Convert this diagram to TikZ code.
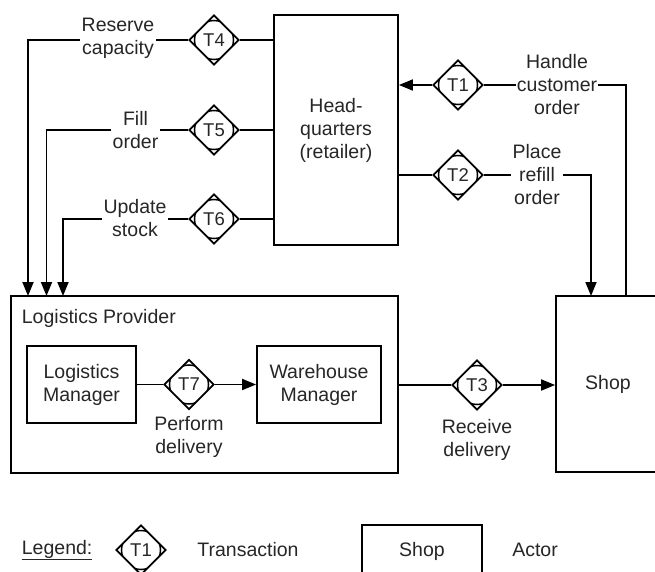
\documentclass[tikz,border=0pt]{standalone}
\usepackage{fontspec}
\setmainfont{Liberation Sans}
\usetikzlibrary{shapes.geometric,arrows.meta}
\begin{document}
\begin{tikzpicture}[x=1pt,y=-1pt,
  line width=1.8pt,
  every node/.style={font=\fontsize{19.5}{23}\selectfont, text=black!85},
  actor/.style={draw, rectangle, inner sep=0pt, line width=1.8pt},
  trans/.style={draw, diamond, aspect=1, inner sep=0pt,
    minimum width=50pt, minimum height=50pt, line width=1.8pt,
    font=\fontsize{18.5}{20}\selectfont,
    path picture={\draw[line width=1.5pt]
      (path picture bounding box.center) circle[radius=19.5pt];}},
  lbl/.style={align=center, inner sep=1pt},
  flow/.style={draw, line width=1.8pt},
  arr/.style={flow, -{Triangle[length=14pt,width=11pt]}}
]
\useasboundingbox (0,0) rectangle (655,572);
\clip (0,0) rectangle (655,572);

% actors
\node[actor, minimum width=124pt, minimum height=230pt, align=center] (hq) at (336,130)
  {Head-\\quarters\\(retailer)};
\node[actor, minimum width=387pt, minimum height=177pt] (lp) at (204.5,384.5) {};
\node[anchor=west, inner sep=0pt] (lpname) at (21,318) {Logistics Provider};
\node[actor, minimum width=109pt, minimum height=77pt, align=center] (lm) at (81.5,384.5)
  {Logistics\\Manager};
\node[actor, minimum width=124pt, minimum height=77pt, align=center] (wm) at (319,384.5)
  {Warehouse\\Manager};
\node[actor, minimum width=110pt, minimum height=176pt] (shop) at (611,384) {};
\node (shopname) at (608,384) {Shop};

% transactions
\node[trans] (t1) at (458,85) {T1};
\node[trans] (t2) at (458,175) {T2};
\node[trans] (t3) at (477,385) {T3};
\node[trans] (t4) at (214,40) {T4};
\node[trans] (t5) at (214,130) {T5};
\node[trans] (t6) at (214,219) {T6};
\node[trans] (t7) at (189,384.5) {T7};

% transaction labels
\node[lbl, inner sep=0pt] (l1) at (557,85) {Handle\\customer\\order};
\node[lbl] (l2) at (537,175) {Place\\refill\\order};
\node[lbl] (l3) at (477,439.5) {Receive\\delivery};
\node[lbl] (l4) at (118,38.5) {Reserve\\capacity};
\node[lbl] (l5) at (135.5,130) {Fill\\order};
\node[lbl] (l6) at (135,218.5) {Update\\stock};
\node[lbl] (l7) at (189,436.5) {Perform\\delivery};

% arrow targets on the top edges
\coordinate (p4) at (28,296);
\coordinate (p5) at (46.5,296);
\coordinate (p6) at (63,296);
\coordinate (s1) at (626,296);
\coordinate (s2) at (591,296);

% connectors
\draw[flow] (hq.west |- t4) -- (t4.east);
\draw[flow] (t4.west) -- (l4.east |- t4);
\draw[arr] (l4.west |- t4) -| (p4);
\draw[flow] (hq.west |- t5) -- (t5.east);
\draw[flow] (t5.west) -- (l5.east |- t5);
\draw[arr] (l5.west |- t5) -| (p5);
\draw[flow] (hq.west |- t6) -- (t6.east);
\draw[flow] (t6.west) -- (l6.east |- t6);
\draw[arr] (l6.west |- t6) -| (p6);

\draw[flow] (s1) |- (l1.east |- t1);
\draw[flow] (l1.west |- t1) -- (t1.east);
\draw[arr] (t1.west) -- (hq.east |- t1);

\draw[flow] (hq.east |- t2) -- (t2.west);
\draw[flow] (t2.east) -- (l2.west |- t2);
\draw[arr] (l2.east |- t2) -| (s2);

\draw[flow] (lp.east |- t3) -- (t3.west);
\draw[arr] (t3.east) -- (shop.west |- t3);

\draw[flow] (lm.east |- t7) -- (t7.west);
\draw[arr] (t7.east) -- (wm.west |- t7);

% legend
\node[anchor=west, inner sep=0pt] (legend) at (21,550) {\underline{Legend:}};
\node[trans] (tl) at (141,550) {T1};
\node (tltext) at (248,550) {Transaction};
\node[actor, minimum width=120pt, minimum height=52pt] (al) at (422,551) {Shop};
\node (altext) at (535,550) {Actor};
\end{tikzpicture}
\end{document}
